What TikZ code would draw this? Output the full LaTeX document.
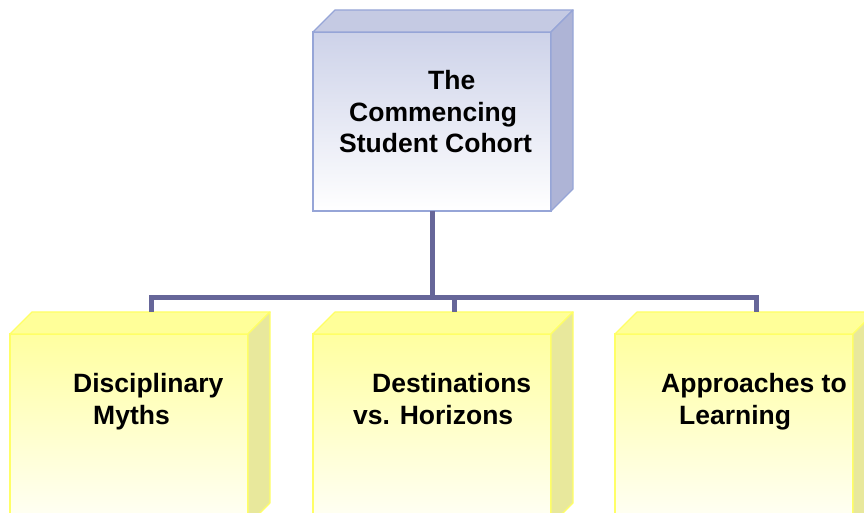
\documentclass[tikz,border=0pt]{standalone}
\usepackage{fontspec}
\setmainfont{Liberation Sans}

\definecolor{linkblue}{HTML}{666699}
\definecolor{cohortedge}{HTML}{96A5D7}
\definecolor{cohorttop}{HTML}{C5CAE3}
\definecolor{cohortside}{HTML}{AEB4D6}
\definecolor{cohortface}{HTML}{CDD2E9}
\definecolor{themeedge}{HTML}{FFFF66}
\definecolor{themetop}{HTML}{FFFF99}
\definecolor{themeside}{HTML}{E8E89C}
\definecolor{themeface}{HTML}{FFFFA0}

\newcommand{\blockfaces}[4]{%
  % Depth faces of a block: #1=node name, #2=top fill, #3=side fill, #4=edge colour
  \filldraw[#4, fill=#2, line width=1.2pt, line join=round] (#1.north west)
    -- ++(22,22) -- ([shift={(22,22)}]#1.north east) -- (#1.north east) -- cycle;
  \filldraw[#4, fill=#3, line width=1.2pt, line join=round] (#1.north east)
    -- ++(22,22) -- ([shift={(22,22)}]#1.south east) -- (#1.south east) -- cycle;%
}

\begin{document}
\begin{tikzpicture}[x=1pt, y=1pt,
  block/.style={draw, line width=1.2pt, inner sep=0pt, outer sep=0pt, minimum width=238pt},
  cohortblock/.style={block, cohortedge, top color=cohortface, bottom color=white, minimum height=179pt},
  themeblock/.style={block, themeedge, top color=themeface, bottom color=white!92!themeface, minimum height=191pt},
  caption/.style={font=\fontsize{26.5}{31.5}\selectfont\bfseries, align=left, inner sep=0pt, anchor=north west},
  link/.style={draw=linkblue, line width=5pt}]

\useasboundingbox (0,0) rectangle (864,513);
\clip (0,0) rectangle (864,513);

% ================================================================
% Top block
% ================================================================
\node[cohortblock] (cohort) at (432,391.5) {};
\blockfaces{cohort}{cohorttop}{cohortside}{cohortedge}
\node[caption] (cohortText) at (339,442.6)
  {\hspace*{89pt}The\\ \hspace*{10pt}Commencing\\ Student Cohort};

% ================================================================
% Lower blocks
% ================================================================
\node[themeblock] (myths) at (129,83.5) {};
\blockfaces{myths}{themetop}{themeside}{themeedge}
\node[caption] (mythsText) at (73,139.6)
  {Disciplinary\\ \hspace*{20pt}Myths};

\node[themeblock] (horizons) at (432,83.5) {};
\blockfaces{horizons}{themetop}{themeside}{themeedge}
\node[caption] (horizonsText) at (353,139.6)
  {\hspace*{19pt}Destinations\\ vs. Horizons};

\node[themeblock] (learning) at (734,83.5) {};
\blockfaces{learning}{themetop}{themeside}{themeedge}
\node[caption] (learningText) at (661,139.6)
  {Approaches to\\ \hspace*{18pt}Learning};

% ================================================================
% Connectors
% ================================================================
\coordinate (bus) at ([yshift=-87pt]cohort.south);
\draw[link] (cohort.south) -- (bus);
\foreach \b in {myths, horizons, learning} {
  \draw[link] (bus) -| ([shift={(22,22)}]\b.north);
}

\end{tikzpicture}
\end{document}
